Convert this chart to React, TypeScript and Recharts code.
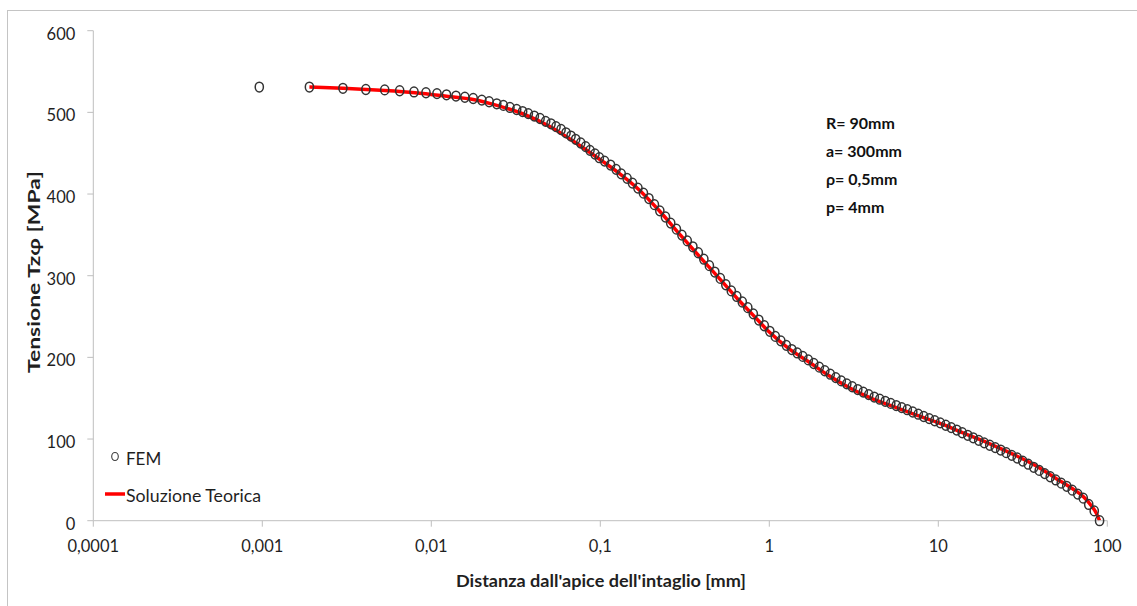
import React from 'react';
import { ComposedChart, Scatter, Line, XAxis, YAxis } from 'recharts';

// FEM results: distance from the notch tip [mm] and stress [MPa]
const femDistance = [
  0.00096, 0.0019, 0.003, 0.0041, 0.0053, 0.0065, 0.0079, 0.0093, 0.0108, 0.0123,
  0.014, 0.0158, 0.0177, 0.0199, 0.022, 0.0244, 0.0267, 0.0292, 0.032, 0.0347,
  0.0375, 0.0407, 0.044, 0.0475, 0.0511, 0.0547, 0.0586, 0.0627, 0.0671, 0.0715,
  0.0766, 0.0819, 0.0869, 0.093, 0.0987,
  0.106, 0.115, 0.124, 0.133, 0.144, 0.155, 0.167, 0.18, 0.194, 0.209,
  0.225, 0.243, 0.261, 0.282, 0.304, 0.327, 0.353, 0.38, 0.41, 0.442,
  0.476, 0.513, 0.553, 0.596, 0.642, 0.692, 0.746, 0.804, 0.867, 0.934,
  1.007, 1.085, 1.17, 1.261, 1.359, 1.464, 1.578, 1.701, 1.833, 1.976,
  2.13, 2.295, 2.474, 2.666, 2.874, 3.097, 3.338, 3.598, 3.878, 4.18,
  4.505, 4.855, 5.233, 5.64, 6.079, 6.552, 7.062, 7.611, 8.203, 8.841,
  9.529, 10.27, 11.07, 11.93, 12.86, 13.86, 14.94, 16.1, 17.35, 18.7,
  20.16, 21.73, 23.42, 25.24, 27.2, 29.32, 31.6, 34.06, 36.71, 39.57,
  42.65, 45.96, 49.54, 53.39, 57.55, 62.02, 66.85, 72.05, 77.65, 83.7,
  90,
];
const femStress = [
  531, 531, 529.5, 528, 527.5, 526.5, 525, 524, 523, 521.5,
  520, 518.5, 517, 515, 513, 510.5, 508.5, 506, 503.5, 501,
  498.5, 495.5, 492.5, 489, 486, 482.5, 479, 475, 471, 467,
  462.5, 458, 453.5, 449, 444.5,
  440.3, 435.5, 430.2, 424.7, 419.2, 413.4, 407.3, 401.1, 394.5, 387,
  379.4, 371.9, 364.4, 357, 349.7, 342.6, 335.4, 328.1, 320.2, 312.3,
  304.5, 296.7, 288.9, 281.4, 274.6, 267.8, 260.9, 253.3, 245.7, 238.7,
  231.9, 225.7, 220.2, 214.7, 209.6, 205.4, 201.2, 196.9, 192.5, 188,
  183.6, 179.4, 175.2, 171.2, 167.6, 164, 160.6, 157.5, 154.4, 151.4,
  148.8, 146.2, 143.6, 141, 138.5, 135.9, 133.1, 130.4, 127.6, 125,
  122.4, 119.8, 116.9, 114, 111, 107.7, 104.6, 101.5, 98.4, 95.3,
  92.4, 89.5, 86.5, 83.3, 80, 76.8, 73, 69.2, 65.4, 61.6,
  57.7, 53.8, 49.9, 46, 42.1, 37.4, 32.6, 27.6, 19.9, 12,
  0,
];

// Theoretical solution
const teoDistance = [
  0.0019, 0.003, 0.005, 0.008, 0.012, 0.018, 0.025, 0.035, 0.05, 0.07,
  0.1, 0.13, 0.17, 0.22, 0.3, 0.4, 0.5, 0.65, 0.8, 1.0,
  1.3, 1.7, 2.2, 3.0, 4.0, 5.5, 7.5, 10, 14, 20,
  28, 38, 50, 62, 72, 80, 86, 90,
];
const teoStress = [
  531, 529.5, 527, 524, 520, 515.5, 508, 498, 483, 464,
  442, 425, 405, 381, 349, 320, 298, 271.5, 252, 231,
  211, 195, 179, 162.5, 150, 139.5, 129, 120, 107.5, 94.5,
  81, 67, 51.5, 39.5, 29.5, 19, 9.5, 0,
];

const xTicks = [0.0001, 0.001, 0.01, 0.1, 1, 10, 100];
const xTickLabels = ['0,0001', '0,001', '0,01', '0,1', '1', '10', '100'];
const yTicks = [0, 100, 200, 300, 400, 500, 600];

const femName = 'FEM';
const teoName = 'Soluzione Teorica';
const xTitle = "Distanza dall'apice dell'intaglio [mm]";
const yTitle = 'Tensione Tzφ [MPa]';
const notes = ['R= 90mm', 'a= 300mm', 'ρ= 0,5mm', 'p= 4mm'];

const femData = femDistance.map((x, i) => ({ x, y: femStress[i] }));
const teoData = teoDistance.map((x, i) => ({ x, y: teoStress[i] }));

const FONT = 'Lato, "Open Sans", sans-serif';
const AXIS_GRAY = '#bfbfbf';
const TEXT = '#1f1f1f';

// Hollow FEM marker so the theoretical curve shows through it
const FemMarker = (props: any) => {
  const { cx, cy } = props;
  if (cx == null || cy == null) return null;
  return (
    <ellipse cx={cx} cy={cy} rx={4.1} ry={4.9} fill="none" stroke="#333333" strokeWidth={1.5} />
  );
};

const XTick = (props: any) => {
  const { x, y, payload } = props;
  const idx = xTicks.findIndex((t) => Math.abs(t - payload.value) < t * 1e-6);
  return (
    <text x={x} y={y} dy={19} textAnchor="middle" fill={TEXT} fontSize={16.5} fontFamily={FONT}>
      {idx >= 0 ? xTickLabels[idx] : String(payload.value)}
    </text>
  );
};

const YTick = (props: any) => {
  const { x, y, payload } = props;
  return (
    <text x={x} y={y} dy={9} textAnchor="end" fill={TEXT} fontSize={16.5} fontFamily={FONT}>
      {payload.value}
    </text>
  );
};

export default function App() {
  return (
    <div style={{ position: 'absolute', left: 0, top: 0, width: 1137, height: 606, background: '#fff', fontFamily: FONT, overflow: 'hidden' }}>
      {/* frame of the chart area */}
      <div style={{ position: 'absolute', left: 7, top: 10, width: 1200, height: 700, borderTop: '1px solid #c4c4c4', borderLeft: '1px solid #c4c4c4' }} />
      <ComposedChart
        width={1137}
        height={606}
        margin={{ top: 30.7, right: 29.7, bottom: 25.3, left: 0 }}
        style={{ position: 'absolute', left: 0, top: 0 }}
      >
        <XAxis
          dataKey="x"
          type="number"
          scale="log"
          domain={[0.0001, 100]}
          ticks={xTicks}
          allowDataOverflow
          height={60}
          tickSize={6}
          tickMargin={6}
          axisLine={{ stroke: AXIS_GRAY, strokeWidth: 1 }}
          tickLine={{ stroke: AXIS_GRAY, strokeWidth: 1 }}
          tick={<XTick />}
          interval={0}
        />
        <YAxis
          dataKey="y"
          type="number"
          domain={[0, 600]}
          ticks={yTicks}
          width={93.3}
          tickSize={6}
          tickMargin={12}
          axisLine={{ stroke: AXIS_GRAY, strokeWidth: 1 }}
          tickLine={{ stroke: AXIS_GRAY, strokeWidth: 1 }}
          tick={<YTick />}
          interval={0}
        />
        <Line
          name={teoName}
          data={teoData}
          dataKey="y"
          type="monotone"
          stroke="#ff0000"
          strokeWidth={3.5}
          dot={false}
          activeDot={false}
          isAnimationActive={false}
        />
        <Scatter name={femName} data={femData} dataKey="y" shape={<FemMarker />} isAnimationActive={false} />
      </ComposedChart>
      <svg width={1137} height={606} style={{ position: 'absolute', left: 0, top: 0, pointerEvents: 'none' }}>
        {/* legend */}
        <ellipse cx={115} cy={456.5} rx={3.3} ry={4} fill="#fff" stroke="#3c3c3c" strokeWidth={1.1} />
        <text x={126} y={465} fontSize={17} fill={TEXT} fontFamily={FONT}>{femName}</text>
        <line x1={105} y1={494} x2={125} y2={494} stroke="#ff0000" strokeWidth={3.5} />
        <text x={126} y={502} fontSize={17} fill={TEXT} fontFamily={FONT} textLength={135} lengthAdjust="spacingAndGlyphs">{teoName}</text>
        {/* parameters */}
        {notes.map((n, i) => (
          <text key={n} x={826} y={129 + i * 28} fontSize={16} fontWeight="bold" fill="#111" fontFamily={FONT}>{n}</text>
        ))}
        {/* axis titles */}
        <text x={601} y={587} textAnchor="middle" fontSize={17} fontWeight="bold" fill={TEXT} fontFamily={FONT} textLength={290} lengthAdjust="spacingAndGlyphs">{xTitle}</text>
        <text
          transform="translate(40,272) rotate(-90)"
          textAnchor="middle"
          fontSize={17}
          fontWeight="bold"
          fill={TEXT}
          fontFamily={FONT}
          textLength={202}
          lengthAdjust="spacingAndGlyphs"
        >
          {yTitle}
        </text>
      </svg>
    </div>
  );
}
